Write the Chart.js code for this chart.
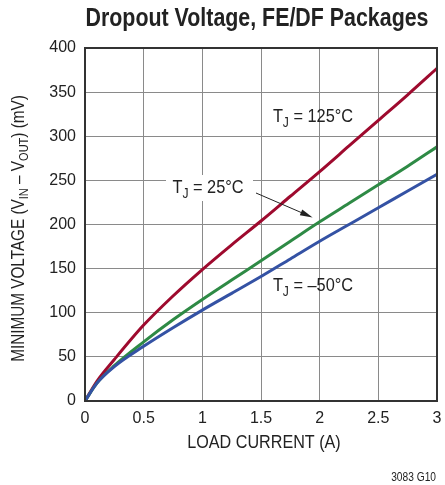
<!DOCTYPE html>
<html>
<head>
<meta charset="utf-8">
<script src="https://cdn.jsdelivr.net/npm/chart.js@4"></script>
<style>
html,body{margin:0;padding:0;background:#fff;}
#wrap{width:445px;height:485px;position:relative;}
</style>
</head>
<body>
<div id="wrap"><canvas id="chart" width="445" height="485"></canvas></div>
<script>
// data (load current in A, dropout in mV)
const loadCurrent=[0,0.1,0.25,0.5,0.75,1,1.25,1.5,1.75,2,2.25,2.5,2.75,3];
const vHot=[0,22,47,86,119,149,177,204,232,260,289,318,347,377];   // TJ = 125°C
const vRoom=[0,20,40,67,92,115,137,159,181,203,224,245,266,288];   // TJ = 25°C
const vCold=[0,20,39,62,83,103,122,141,161,181,200,219,238,257];   // TJ = -50°C
const xTicks=[0,0.5,1,1.5,2,2.5,3];
const yTicks=[0,50,100,150,200,250,300,350,400];

const FONT='"Liberation Sans",Arial,sans-serif';
const INK='#222';

function pts(ys){ return loadCurrent.map((x,i)=>({x:x,y:ys[i]})); }

// text with subscript runs, squeezed horizontally by sx to look condensed
function richText(ctx,parts,x,y,size,sx,align){
  let w=0;
  parts.forEach(p=>{ ctx.font=(p[1]?Math.round(size*0.72):size)+'px '+FONT; w+=ctx.measureText(p[0]).width; });
  ctx.save();
  ctx.translate(x,y); ctx.scale(sx,1);
  let cx=align==='center'?-w/2:(align==='right'?-w:0);
  ctx.textAlign='left'; ctx.textBaseline='middle';
  parts.forEach(p=>{
    ctx.font=(p[1]?Math.round(size*0.72):size)+'px '+FONT;
    ctx.fillText(p[0],cx,p[1]?size*0.32:0);
    cx+=ctx.measureText(p[0]).width;
  });
  ctx.restore();
}

const decor={
  id:'decor',
  afterDraw(chart){
    const ctx=chart.ctx, a=chart.chartArea;
    const xs=chart.scales.x, ys=chart.scales.y;
    ctx.save();
    // frame
    ctx.strokeStyle='#333'; ctx.lineWidth=2;
    ctx.strokeRect(a.left,a.top,a.right-a.left,a.bottom-a.top);
    ctx.fillStyle=INK;
    // title (bold condensed look)
    ctx.save();
    ctx.font='bold 25px '+FONT;
    const tw=ctx.measureText('Dropout Voltage, FE/DF Packages').width;
    ctx.translate(257,19); ctx.scale(343/tw,1);
    ctx.textAlign='center'; ctx.textBaseline='middle';
    ctx.fillText('Dropout Voltage, FE/DF Packages',0,0);
    ctx.restore();
    // y axis label
    ctx.save();
    ctx.translate(19,(a.top+a.bottom)/2+4); ctx.rotate(-Math.PI/2);
    richText(ctx,[['MINIMUM VOLTAGE (V',0],['IN',1],[' – V',0],['OUT',1],[') (mV)',0]],0,0,18,0.85,'center');
    ctx.restore();
    // curve labels
    richText(ctx,[['T',0],['J',1],[' = 125°C',0]],313,117,19,0.86,'center');
    ctx.fillStyle='#fff'; ctx.fillRect(166,175,87,26);
    ctx.fillStyle=INK;
    richText(ctx,[['T',0],['J',1],[' = 25°C',0]],208,188,19,0.86,'center');
    richText(ctx,[['T',0],['J',1],[' = –50°C',0]],313,286,19,0.86,'center');
    // arrow to the 25°C curve
    const x0=256,y0=193,x1=xs.getPixelForValue(1.94),y1=ys.getPixelForValue(208);
    const ang=Math.atan2(y1-y0,x1-x0);
    ctx.strokeStyle=INK; ctx.lineWidth=1;
    ctx.beginPath(); ctx.moveTo(x0,y0); ctx.lineTo(x1-8*Math.cos(ang),y1-8*Math.sin(ang)); ctx.stroke();
    ctx.beginPath(); ctx.moveTo(x1,y1);
    ctx.lineTo(x1-13*Math.cos(ang-0.24),y1-13*Math.sin(ang-0.24));
    ctx.lineTo(x1-13*Math.cos(ang+0.24),y1-13*Math.sin(ang+0.24));
    ctx.closePath(); ctx.fill();
    // x axis label and figure id
    richText(ctx,[['LOAD CURRENT (A)',0]],264,443,19,0.85,'center');
    richText(ctx,[['3083 G10',0]],436,478,12,0.85,'right');
    ctx.restore();
  }
};

const line=(data,color)=>({data:pts(data),borderColor:color,borderWidth:3,pointRadius:0,cubicInterpolationMode:'monotone',fill:false});

new Chart(document.getElementById('chart'),{
  type:'line',
  data:{datasets:[line(vCold,'#3452a4'),line(vRoom,'#2e8a45'),line(vHot,'#9e0a2e')]},
  options:{
    responsive:false,animation:false,
    layout:{padding:{top:48,right:8,left:0,bottom:0}},
    plugins:{legend:{display:false},tooltip:{enabled:false}},
    scales:{
      x:{type:'linear',min:0,max:3,
        afterBuildTicks:s=>{s.ticks=xTicks.map(v=>({value:v}));},
        afterFit:s=>{s.height=84; s.paddingLeft=0; s.paddingRight=0;},
        grid:{color:'#8a8a8a',lineWidth:1,drawTicks:false},
        border:{display:false},
        ticks:{color:INK,font:{family:FONT,size:16},padding:8,maxRotation:0,callback:v=>String(v)}},
      y:{min:0,max:400,
        afterBuildTicks:s=>{s.ticks=yTicks.map(v=>({value:v}));},
        afterFit:s=>{s.width=85; s.paddingTop=0; s.paddingBottom=0;},
        grid:{color:'#8a8a8a',lineWidth:1,drawTicks:false},
        border:{display:false},
        ticks:{color:INK,font:{family:FONT,size:16},padding:9,callback:v=>String(v)}}
    }
  },
  plugins:[decor]
});
</script>
</body>
</html>
